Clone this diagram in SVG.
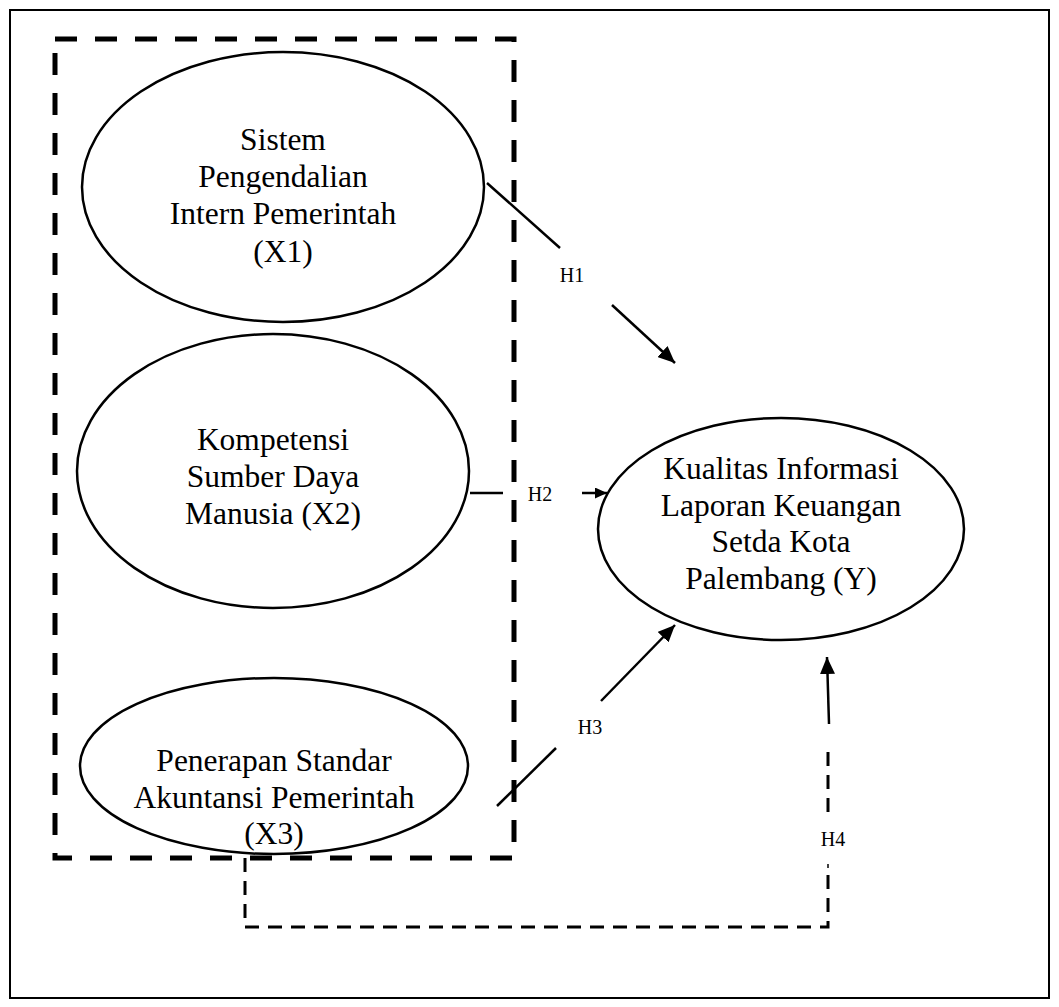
<svg xmlns="http://www.w3.org/2000/svg" width="1059" height="1007" viewBox="0 0 1059 1007">
<defs>
<marker id="ah" viewBox="0 0 12 11" refX="12" refY="5.5" markerWidth="12" markerHeight="11" markerUnits="userSpaceOnUse" orient="auto">
<path d="M0,0 L12,5.5 L0,11 z" fill="#000"/>
</marker>
<marker id="ahb" viewBox="0 0 17 15" refX="17" refY="7.5" markerWidth="17" markerHeight="15" markerUnits="userSpaceOnUse" orient="auto">
<path d="M0,0 L17,7.5 L0,15 z" fill="#000"/>
</marker>
</defs>
<style>
.node ellipse{fill:#fff;stroke:#000;stroke-width:2.5}
.t{font-family:"Liberation Serif","Times New Roman",serif;font-size:31.5px;fill:#000;text-anchor:middle}
.h{font-family:"Liberation Serif","Times New Roman",serif;font-size:20px;fill:#000;text-anchor:middle}
.c{fill:none;stroke:#000;stroke-width:2.5}
.thick{fill:none;stroke:#000;stroke-width:5;stroke-dasharray:22 18}
.thin{fill:none;stroke:#000;stroke-width:3;stroke-dasharray:14 9}
</style>
<rect width="1059" height="1007" fill="#fff"/>
<rect x="10" y="10" width="1039" height="988" fill="none" stroke="#000" stroke-width="2"/>
<g id="group-box">
<path class="thick" d="M55,39 H514 V858 H55 Z"/>
</g>
<g id="node-x1" class="node">
<ellipse cx="283" cy="187" rx="201" ry="135"/>
<text class="t" x="283" y="150">Sistem</text>
<text class="t" x="283" y="187">Pengendalian</text>
<text class="t" x="283" y="224">Intern Pemerintah</text>
<text class="t" x="283" y="262">(X1)</text>
</g>
<g id="node-x2" class="node">
<ellipse cx="273" cy="471" rx="196" ry="137"/>
<text class="t" x="273" y="450">Kompetensi</text>
<text class="t" x="273" y="487">Sumber Daya</text>
<text class="t" x="273" y="524">Manusia (X2)</text>
</g>
<g id="node-x3" class="node">
<ellipse cx="274" cy="766" rx="194" ry="88"/>
<text class="t" x="274" y="771">Penerapan Standar</text>
<text class="t" x="274" y="808">Akuntansi Pemerintah</text>
<text class="t" x="274" y="844">(X3)</text>
</g>
<g id="node-y" class="node">
<ellipse cx="781" cy="529" rx="183" ry="111"/>
<text class="t" x="781" y="479">Kualitas Informasi</text>
<text class="t" x="781" y="516">Laporan Keuangan</text>
<text class="t" x="781" y="552">Setda Kota</text>
<text class="t" x="781" y="589">Palembang (Y)</text>
</g>
<g id="connectors">
<line class="c" x1="487" y1="183" x2="560" y2="248"/>
<line class="c" x1="612" y1="305" x2="675" y2="363" marker-end="url(#ahb)"/>
<text class="h" x="572" y="282">H1</text>
<line class="c" x1="470" y1="493" x2="503" y2="493"/>
<line class="c" x1="582" y1="493" x2="607" y2="493" marker-end="url(#ah)"/>
<text class="h" x="540" y="501">H2</text>
<line class="c" x1="497" y1="806" x2="556" y2="748"/>
<line class="c" x1="601" y1="701" x2="675" y2="625" marker-end="url(#ahb)"/>
<text class="h" x="590" y="734">H3</text>
<path class="thin" d="M245,858 V927 H828 V872"/>
<line x1="828" y1="864" x2="828" y2="868" stroke="#000" stroke-width="1.5"/>
<path class="thin" d="M828,812 V745"/>
<line class="c" x1="829" y1="724" x2="827" y2="657" marker-end="url(#ahb)"/>
<text class="h" x="833" y="846">H4</text>
</g>
</svg>
